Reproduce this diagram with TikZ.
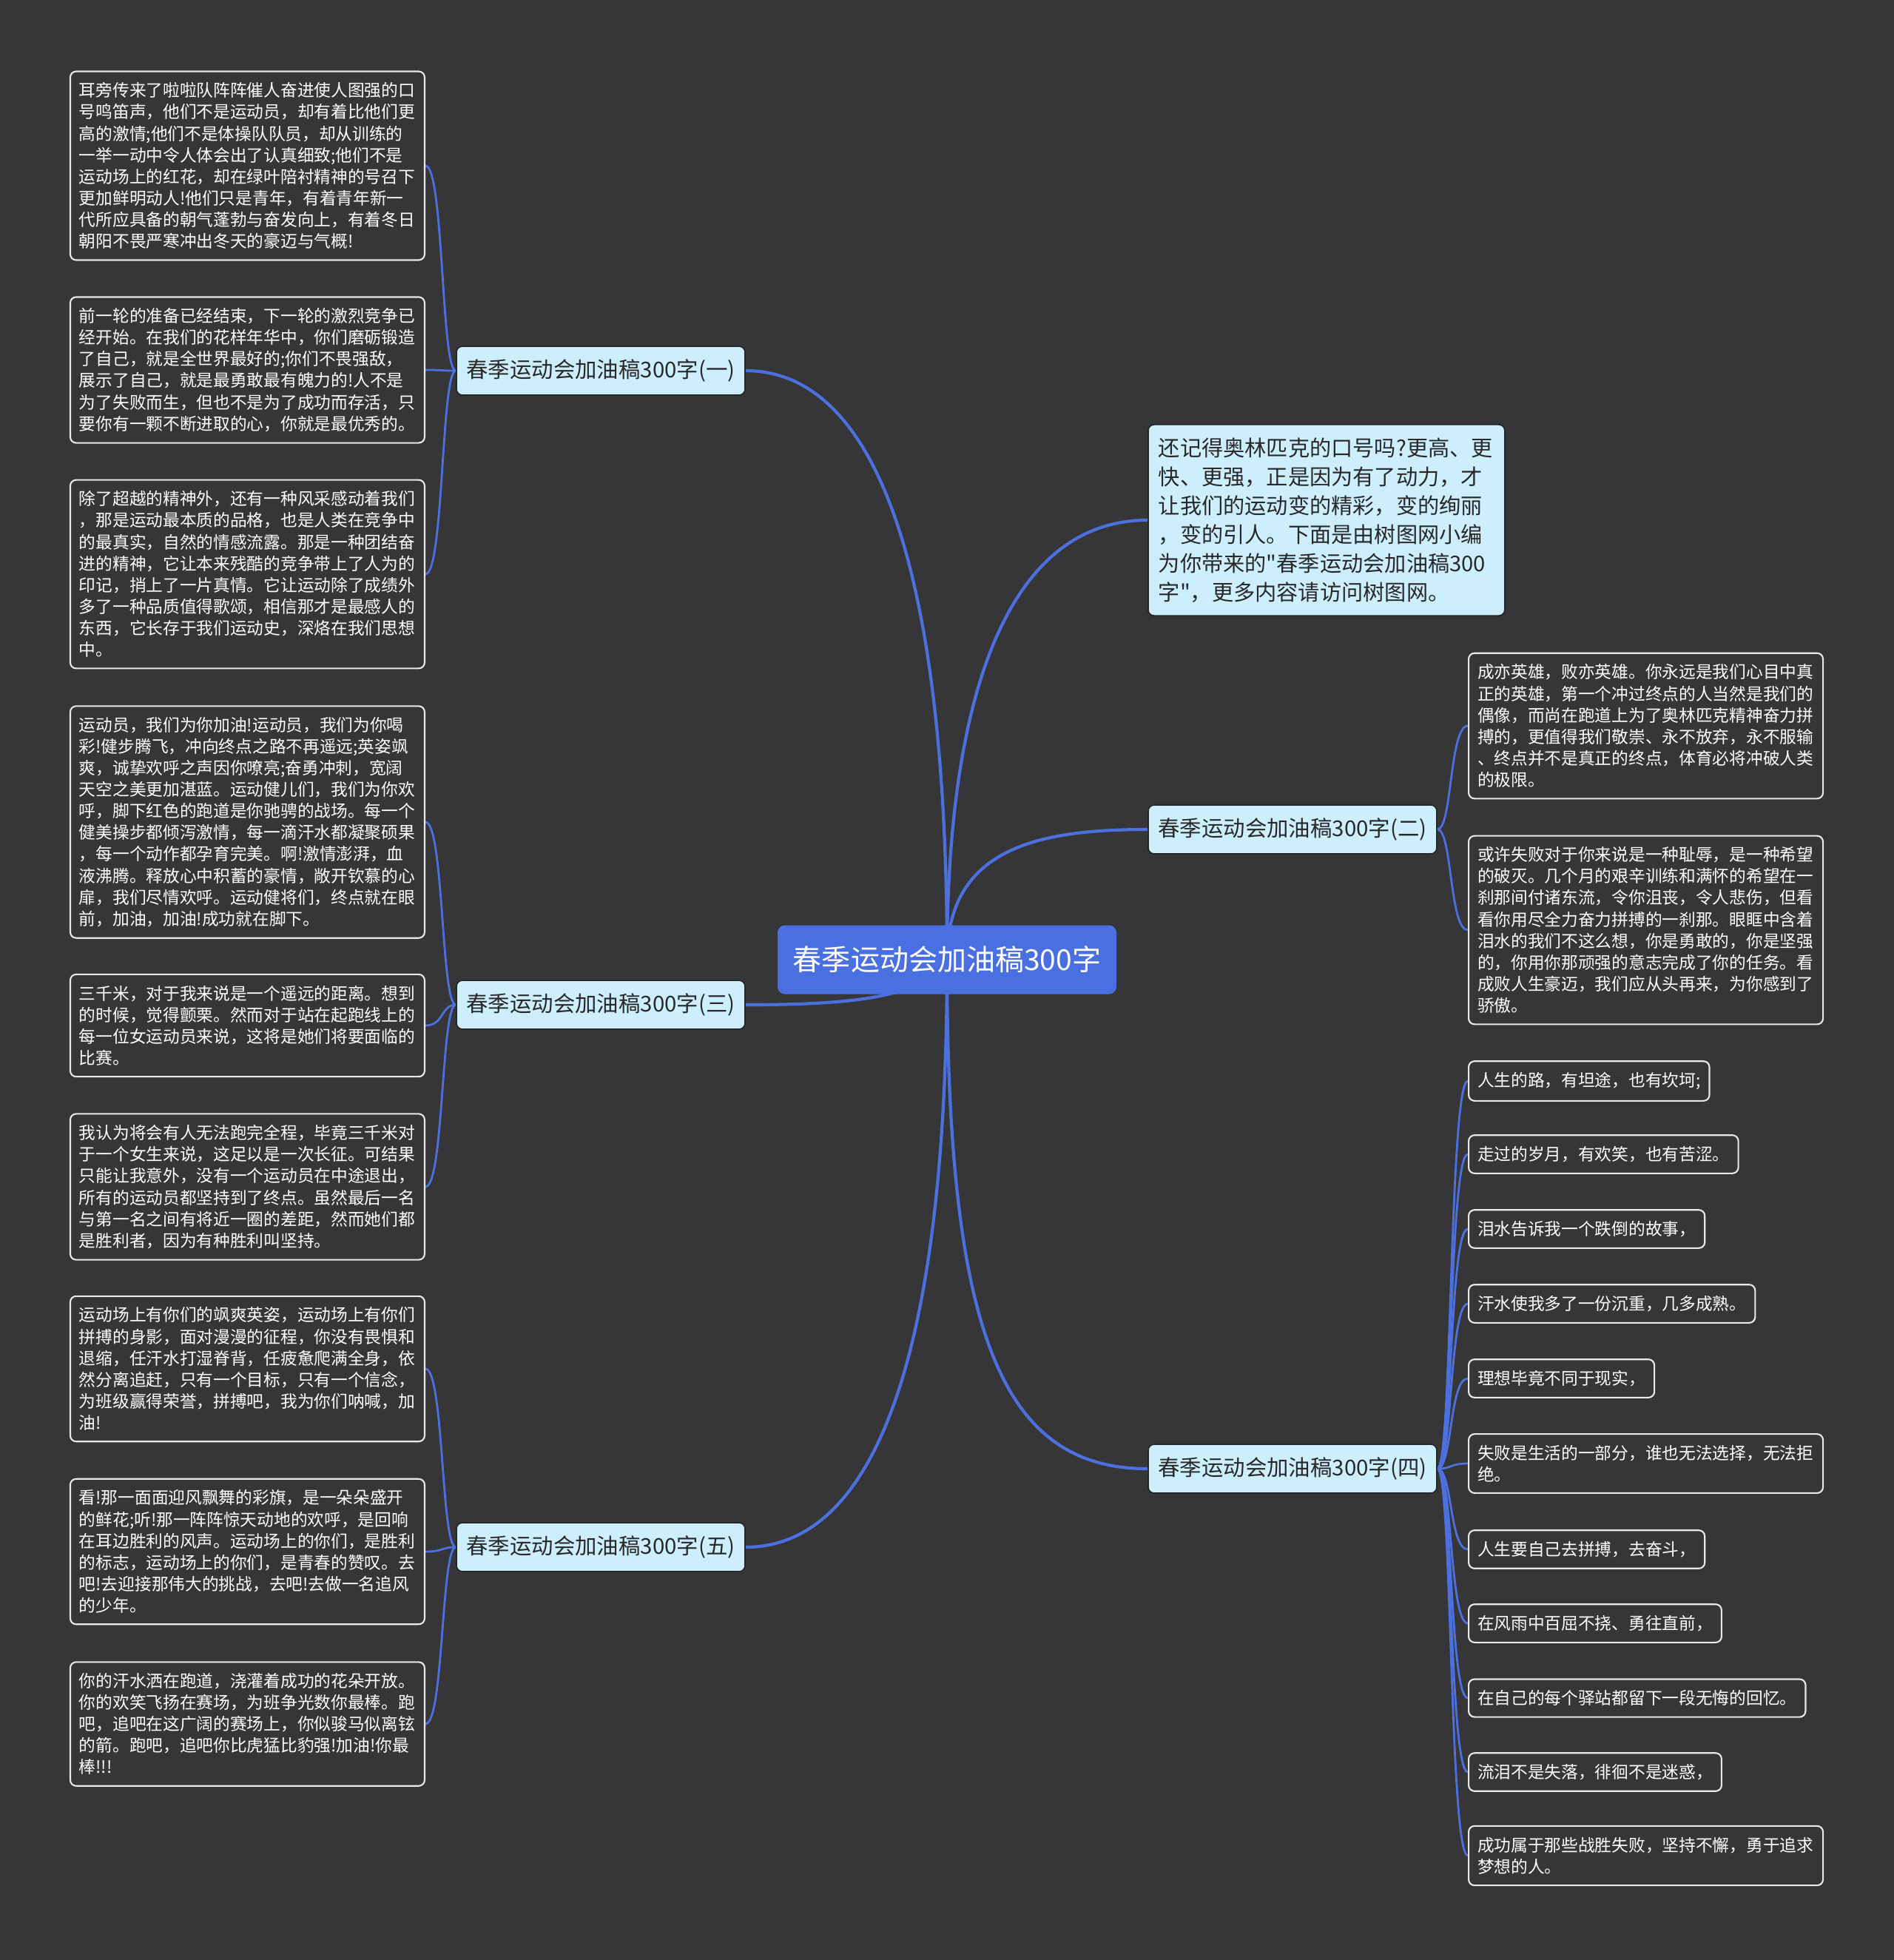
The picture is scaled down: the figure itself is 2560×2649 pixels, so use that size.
\documentclass[tikz,border=0pt]{standalone}
\usepackage{fontspec}
\setmainfont{Noto Sans CJK SC}[Ligatures=TeXOff]
\usetikzlibrary{positioning,backgrounds}

\definecolor{bgdark}{RGB}{54,53,56}
\definecolor{rootblue}{RGB}{74,111,224}
\definecolor{linkblue}{RGB}{76,112,222}
\definecolor{topicfill}{RGB}{205,239,253}
\definecolor{topictext}{RGB}{40,40,40}
\definecolor{leafline}{RGB}{232,232,232}

\begin{document}
\begin{tikzpicture}[
  x=0.1mm, y=-0.1mm,
  root/.style={fill=rootblue, rounded corners=1mm, text=white,
               minimum width=45.8mm, minimum height=9.3mm,
               font=\fontsize{11.1pt}{13pt}\selectfont},
  topic/.style={draw=black!85, line width=0.5pt, fill=topicfill,
                text=topictext, rounded corners=0.8mm,
                minimum width=39mm, minimum height=6.6mm, inner xsep=0.5mm,
                font=\fontsize{8.37pt}{10pt}\selectfont},
  intro/.style={draw=black!85, line width=0.5pt, fill=topicfill,
                text=topictext, rounded corners=0.8mm, align=left,
                text width=45.4mm, inner xsep=1.4mm, inner ysep=1.8mm,
                font=\fontsize{8.31pt}{11.07pt}\selectfont},
  leaf/.style={draw=leafline, line width=0.6pt, fill=bgdark, text=white,
               rounded corners=0.8mm, inner xsep=1.2mm, inner ysep=1.5mm,
               align=left, font=\fontsize{6.46pt}{8.28pt}\selectfont},
  longleaf/.style={leaf, text width=45.5mm},
  trunk/.style={linkblue, line width=1.2pt},
  twig/.style={linkblue, line width=0.8pt}
]

%% ---- Canvas ---------------------------------------------------------
\begin{scope}[on background layer]
  \fill[bgdark] (0,0) rectangle (2560,2649);
\end{scope}

%% ---- Centre and main topics -----------------------------------------
\node[root] (root) at (1280,1297) {春季运动会加油稿300字};

\node[topic] (t1) at (812,501)   {春季运动会加油稿300字(一)};
\node[topic] (t3) at (812,1358)  {春季运动会加油稿300字(三)};
\node[topic] (t5) at (812,2091)  {春季运动会加油稿300字(五)};
\node[topic] (t2) at (1747,1121) {春季运动会加油稿300字(二)};
\node[topic] (t4) at (1747,1985) {春季运动会加油稿300字(四)};

\node[intro, anchor=west] (intro) at (1551,703)
  {还记得奥林匹克的口号吗?更高、更\\
   快、更强，正是因为有了动力，才\\
   让我们的运动变的精彩，变的绚丽\\
   ，变的引人。下面是由树图网小编\\
   为你带来的"春季运动会加油稿300\\
   字"，更多内容请访问树图网。};

%% ---- Left leaves (一) -------------------------------------------------
\node[longleaf, anchor=east] (l1a) at (575,224)
  {耳旁传来了啦啦队阵阵催人奋进使人图强的口\\
   号鸣笛声，他们不是运动员，却有着比他们更\\
   高的激情;他们不是体操队队员，却从训练的\\
   一举一动中令人体会出了认真细致;他们不是\\
   运动场上的红花，却在绿叶陪衬精神的号召下\\
   更加鲜明动人!他们只是青年，有着青年新一\\
   代所应具备的朝气蓬勃与奋发向上，有着冬日\\
   朝阳不畏严寒冲出冬天的豪迈与气概!};
\node[longleaf, anchor=east] (l1b) at (575,500)
  {前一轮的准备已经结束，下一轮的激烈竞争已\\
   经开始。在我们的花样年华中，你们磨砺锻造\\
   了自己，就是全世界最好的;你们不畏强敌，\\
   展示了自己，就是最勇敢最有魄力的!人不是\\
   为了失败而生，但也不是为了成功而存活，只\\
   要你有一颗不断进取的心，你就是最优秀的。};
\node[longleaf, anchor=east] (l1c) at (575,776)
  {除了超越的精神外，还有一种风采感动着我们\\
   ，那是运动最本质的品格，也是人类在竞争中\\
   的最真实，自然的情感流露。那是一种团结奋\\
   进的精神，它让本来残酷的竞争带上了人为的\\
   印记，捎上了一片真情。它让运动除了成绩外\\
   多了一种品质值得歌颂，相信那才是最感人的\\
   东西，它长存于我们运动史，深烙在我们思想\\
   中。};

%% ---- Left leaves (三) -------------------------------------------------
\node[longleaf, anchor=east] (l3a) at (575,1111)
  {运动员，我们为你加油!运动员，我们为你喝\\
   彩!健步腾飞，冲向终点之路不再遥远;英姿飒\\
   爽，诚挚欢呼之声因你嘹亮;奋勇冲刺，宽阔\\
   天空之美更加湛蓝。运动健儿们，我们为你欢\\
   呼，脚下红色的跑道是你驰骋的战场。每一个\\
   健美操步都倾泻激情，每一滴汗水都凝聚硕果\\
   ，每一个动作都孕育完美。啊!激情澎湃，血\\
   液沸腾。释放心中积蓄的豪情，敞开钦慕的心\\
   扉，我们尽情欢呼。运动健将们，终点就在眼\\
   前，加油，加油!成功就在脚下。};
\node[longleaf, anchor=east] (l3b) at (575,1386)
  {三千米，对于我来说是一个遥远的距离。想到\\
   的时候，觉得颤栗。然而对于站在起跑线上的\\
   每一位女运动员来说，这将是她们将要面临的\\
   比赛。};
\node[longleaf, anchor=east] (l3c) at (575,1604)
  {我认为将会有人无法跑完全程，毕竟三千米对\\
   于一个女生来说，这足以是一次长征。可结果\\
   只能让我意外，没有一个运动员在中途退出，\\
   所有的运动员都坚持到了终点。虽然最后一名\\
   与第一名之间有将近一圈的差距，然而她们都\\
   是胜利者，因为有种胜利叫坚持。};

%% ---- Left leaves (五) -------------------------------------------------
\node[longleaf, anchor=east] (l5a) at (575,1850)
  {运动场上有你们的飒爽英姿，运动场上有你们\\
   拼搏的身影，面对漫漫的征程，你没有畏惧和\\
   退缩，任汗水打湿脊背，任疲惫爬满全身，依\\
   然分离追赶，只有一个目标，只有一个信念，\\
   为班级赢得荣誉，拼搏吧，我为你们呐喊，加\\
   油!};
\node[longleaf, anchor=east] (l5b) at (575,2097)
  {看!那一面面迎风飘舞的彩旗，是一朵朵盛开\\
   的鲜花;听!那一阵阵惊天动地的欢呼，是回响\\
   在耳边胜利的风声。运动场上的你们，是胜利\\
   的标志，运动场上的你们，是青春的赞叹。去\\
   吧!去迎接那伟大的挑战，去吧!去做一名追风\\
   的少年。};
\node[longleaf, anchor=east] (l5c) at (575,2330)
  {你的汗水洒在跑道，浇灌着成功的花朵开放。\\
   你的欢笑飞扬在赛场，为班争光数你最棒。跑\\
   吧，追吧在这广阔的赛场上，你似骏马似离铉\\
   的箭。跑吧，追吧你比虎猛比豹强!加油!你最\\
   棒!!!};

%% ---- Right leaves (二) ------------------------------------------------
\node[longleaf, anchor=west] (r2a) at (1984,981)
  {成亦英雄，败亦英雄。你永远是我们心目中真\\
   正的英雄，第一个冲过终点的人当然是我们的\\
   偶像，而尚在跑道上为了奥林匹克精神奋力拼\\
   搏的，更值得我们敬崇、永不放弃，永不服输\\
   、终点并不是真正的终点，体育必将冲破人类\\
   的极限。};
\node[longleaf, anchor=west] (r2b) at (1984,1257)
  {或许失败对于你来说是一种耻辱，是一种希望\\
   的破灭。几个月的艰辛训练和满怀的希望在一\\
   刹那间付诸东流，令你沮丧，令人悲伤，但看\\
   看你用尽全力奋力拼搏的一刹那。眼眶中含着\\
   泪水的我们不这么想，你是勇敢的，你是坚强\\
   的，你用你那顽强的意志完成了你的任务。看\\
   成败人生豪迈，我们应从头再来，为你感到了\\
   骄傲。};

%% ---- Right leaves (四) ------------------------------------------------
\node[leaf, anchor=west] (r4a) at (1984,1461) {人生的路，有坦途，也有坎坷;};
\node[leaf, anchor=west] (r4b) at (1984,1560) {走过的岁月，有欢笑，也有苦涩。};
\node[leaf, anchor=west] (r4c) at (1984,1661) {泪水告诉我一个跌倒的故事，};
\node[leaf, anchor=west] (r4d) at (1984,1762) {汗水使我多了一份沉重，几多成熟。};
\node[leaf, anchor=west] (r4e) at (1984,1863) {理想毕竟不同于现实，};
\node[longleaf, anchor=west] (r4f) at (1984,1978)
  {失败是生活的一部分，谁也无法选择，无法拒\\绝。};
\node[leaf, anchor=west] (r4g) at (1984,2094) {人生要自己去拼搏，去奋斗，};
\node[leaf, anchor=west] (r4h) at (1984,2194) {在风雨中百屈不挠、勇往直前，};
\node[leaf, anchor=west] (r4i) at (1984,2295) {在自己的每个驿站都留下一段无悔的回忆。};
\node[leaf, anchor=west] (r4j) at (1984,2395) {流泪不是失落，徘徊不是迷惑，};
\node[longleaf, anchor=west] (r4k) at (1984,2508)
  {成功属于那些战胜失败，坚持不懈，勇于追求\\梦想的人。};

%% ---- Connectors -----------------------------------------------------
\begin{scope}[on background layer]
  % centre to main topics
  \draw[trunk] (root.center) .. controls +(0,-600) and +(150,0) .. (t1.east);
  \draw[trunk] (root.center) .. controls +(-30,50) and +(150,0) .. (t3.east);
  \draw[trunk] (root.center) .. controls +(0,600) and +(150,0) .. (t5.east);
  \draw[trunk] (root.center) .. controls +(0,-400) and +(-170,0) .. (intro.west);
  \draw[trunk] (root.center) .. controls +(0,-150) and +(-150,0) .. (t2.west);
  \draw[trunk] (root.center) .. controls +(0,500) and +(-200,0) .. (t4.west);

  % topics to leaves
  \foreach \leaf in {l1a,l1b,l1c}
    \draw[twig] (t1.west) .. controls +(-20,0) and +(25,0) .. (\leaf.east);
  \foreach \leaf in {l3a,l3b,l3c}
    \draw[twig] (t3.west) .. controls +(-20,0) and +(25,0) .. (\leaf.east);
  \foreach \leaf in {l5a,l5b,l5c}
    \draw[twig] (t5.west) .. controls +(-20,0) and +(25,0) .. (\leaf.east);
  \foreach \leaf in {r2a,r2b}
    \draw[twig] (t2.east) .. controls +(20,0) and +(-25,0) .. (\leaf.west);
  \foreach \leaf in {r4a,r4b,r4c,r4d,r4e,r4f,r4g,r4h,r4i,r4j,r4k}
    \draw[twig] (t4.east) .. controls +(20,0) and +(-25,0) .. (\leaf.west);
\end{scope}

\end{tikzpicture}
\end{document}
